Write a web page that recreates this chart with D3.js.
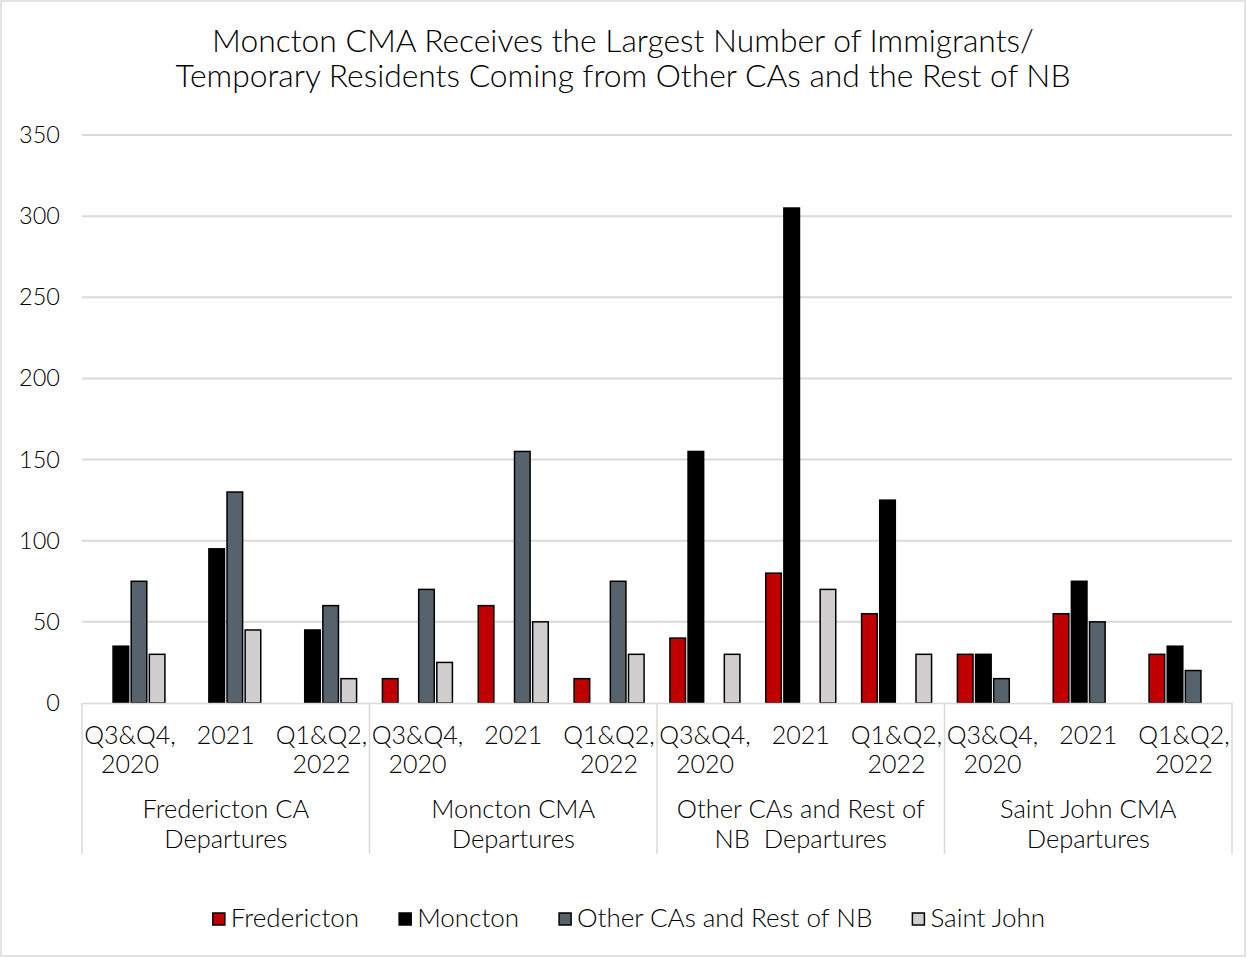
<!DOCTYPE html>
<html>
<head>
<meta charset="utf-8">
<script src="https://cdn.jsdelivr.net/npm/d3@7"></script>
<style>
  html, body { margin: 0; padding: 0; background: #fff; }
  svg text { font-family: "Lato", "DejaVu Sans", sans-serif; font-weight: 300; fill: #000; }
</style>
</head>
<body>
<svg id="chart" width="1247" height="958"></svg>
<script>
// Origin groups (departures) and the periods within each
const groups = ["Fredericton CA|Departures", "Moncton CMA|Departures", "Other CAs and Rest of|NB  Departures", "Saint John CMA|Departures"];
const periods = ["Q3&Q4,|2020", "2021", "Q1&Q2,|2022"];
const seriesNames = ["Fredericton", "Moncton", "Other CAs and Rest of NB", "Saint John"];
const seriesColors = ["#C00000", "#000000", "#56626C", "#D0CECE"];
const yTicks = [0, 50, 100, 150, 200, 250, 300, 350];

// Destination values, one entry per group x period (null = no bar)
const fredericton = [null, null, null, 15, 60, 15, 40, 80, 55, 30, 55, 30];
const moncton     = [35, 95, 45, null, null, null, 155, 305, 125, 30, 75, 35];
const otherCAs    = [75, 130, 60, 70, 155, 75, null, null, null, 15, 50, 20];
const saintJohn   = [30, 45, 15, 25, 50, 30, 30, 70, 30, null, null, null];
const seriesValues = [fredericton, moncton, otherCAs, saintJohn];

const svg = d3.select("#chart");
const W = 1247, H = 958;
const plot = { left: 82, right: 1232, top: 135, bottom: 703 };

// outer chart frame
svg.append("rect").attr("x", 1).attr("y", 1).attr("width", W - 3).attr("height", H - 3)
  .attr("fill", "#fff").attr("stroke", "#D9D9D9").attr("stroke-width", 1.5);

// title
const title = svg.append("text").attr("text-anchor", "middle").attr("font-size", 31.8);
title.append("tspan").attr("x", 623).attr("y", 52).text("Moncton CMA Receives the Largest Number of Immigrants/");
title.append("tspan").attr("x", 623).attr("y", 87).text("Temporary Residents Coming from Other CAs and the Rest of NB");

const y = d3.scaleLinear().domain([0, 350]).range([plot.bottom, plot.top]);

// gridlines
svg.append("g").selectAll("line").data(yTicks.filter(d => d > 0)).join("line")
  .attr("x1", plot.left).attr("x2", plot.right)
  .attr("y1", d => y(d)).attr("y2", d => y(d))
  .attr("stroke", "#D9D9D9").attr("stroke-width", 2);

// y axis labels
const yAxis = d3.axisLeft(y).tickValues(yTicks).tickSize(0).tickPadding(0);
const gy = svg.append("g").attr("transform", `translate(60,0)`).call(yAxis);
gy.select(".domain").remove();
gy.selectAll("text").attr("font-size", 23.5).attr("fill", "#000")
  .style("font-family", "Lato, 'DejaVu Sans', sans-serif").style("font-weight", 300);

// category scales
const cats = d3.range(groups.length * periods.length);
const x0 = d3.scaleBand().domain(cats).range([plot.left, plot.right]).padding(0);
const clusterW = 70;
const x1 = d3.scaleBand().domain(d3.range(seriesNames.length))
  .range([(x0.bandwidth() - clusterW) / 2, (x0.bandwidth() + clusterW) / 2])
  .paddingInner(0.14).paddingOuter(0);

// bars
const barData = [];
seriesValues.forEach((vals, s) => vals.forEach((v, c) => { if (v != null) barData.push({ s, c, v }); }));
svg.append("g").selectAll("rect").data(barData).join("rect")
  .attr("x", d => x0(d.c) + x1(d.s))
  .attr("y", d => y(d.v))
  .attr("width", x1.bandwidth())
  .attr("height", d => y(0) - y(d.v))
  .attr("fill", d => seriesColors[d.s])
  .attr("stroke", "#000").attr("stroke-width", 1.5);

// category axis line and group separators
const ax = svg.append("g");
ax.append("line").attr("x1", plot.left).attr("x2", plot.right)
  .attr("y1", plot.bottom + 0.5).attr("y2", plot.bottom + 0.5)
  .attr("stroke", "#D9D9D9").attr("stroke-width", 1.5);
const sepX = d3.range(groups.length + 1).map(i => i < groups.length ? x0(i * periods.length) : plot.right);
ax.selectAll(".sep").data(sepX).join("line")
  .attr("x1", d => d).attr("x2", d => d)
  .attr("y1", plot.bottom).attr("y2", 854)
  .attr("stroke", "#D9D9D9").attr("stroke-width", 1.5);

// period labels
cats.forEach(c => {
  const lines = periods[c % periods.length].split("|");
  const t = svg.append("text").attr("text-anchor", "middle").attr("font-size", 25);
  lines.forEach((ln, i) => t.append("tspan")
    .attr("x", x0(c) + x0.bandwidth() / 2).attr("y", 744 + i * 29).text(ln));
});

// group labels
groups.forEach((g, gi) => {
  const cx = (sepX[gi] + sepX[gi + 1]) / 2;
  const t = svg.append("text").attr("text-anchor", "middle").attr("font-size", 25.5)
    .attr("xml:space", "preserve");
  g.split("|").forEach((ln, i) => t.append("tspan").attr("x", cx).attr("y", 818 + i * 30).text(ln));
});

// legend
const legend = svg.append("g");
let lx = 0;
const gap = 40;
seriesNames.forEach((name, i) => {
  const g = legend.append("g");
  g.append("rect").attr("x", 0).attr("y", -6).attr("width", 12).attr("height", 12)
    .attr("fill", seriesColors[i]).attr("stroke", "#000").attr("stroke-width", 1.5);
  const t = g.append("text").attr("x", 18).attr("y", 8).attr("font-size", 26).text(name);
  const w = 18 + t.node().getComputedTextLength();
  g.attr("transform", `translate(${lx},0)`);
  lx += w + gap;
});
const total = lx - gap;
legend.attr("transform", `translate(${629 - total / 2},919)`);
</script>
</body>
</html>
